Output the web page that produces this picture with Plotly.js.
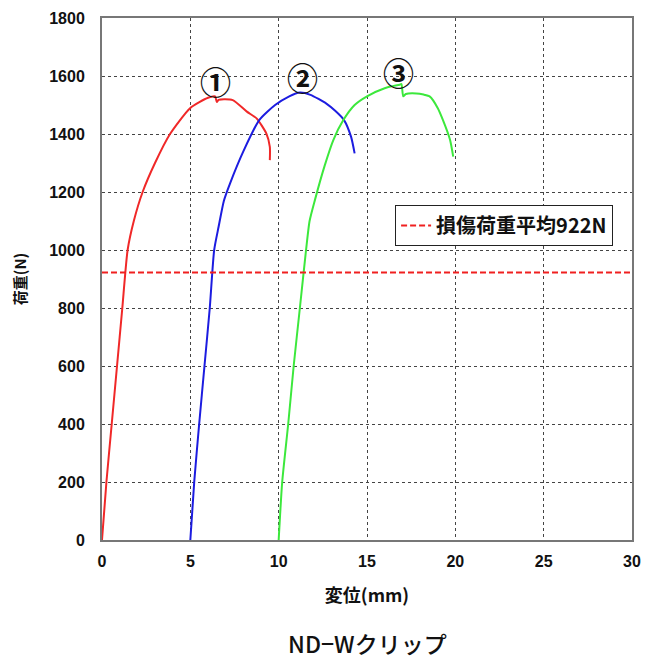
<!DOCTYPE html>
<html>
<head>
<meta charset="utf-8">
<script src="https://cdn.plot.ly/plotly-3.0.1.min.js"></script>
<style>
  html, body { margin: 0; padding: 0; background: #fff; }
  #chart { width: 660px; height: 661px; }
</style>
</head>
<body>
<div id="chart"></div>
<script>
// Load–displacement curves for three ND-W clip specimens
const disp1 = [0, 0.25, 0.55, 0.85, 1.15, 1.45, 1.8, 2.3, 3.0, 3.85, 5.0, 6.0, 6.4, 6.5, 6.6, 7.4, 8.2, 8.75, 9.3, 9.5, 9.5];
const load1 = [0, 200, 400, 600, 800, 1000, 1100, 1200, 1300, 1400, 1490, 1525, 1530, 1510, 1518, 1517, 1477, 1454, 1402, 1356, 1310];

const disp2 = [5, 5.22, 5.5, 5.8, 6.1, 6.35, 6.6, 6.9, 7.25, 8.0, 8.9, 9.8, 10.6, 11.2, 11.8, 12.7, 13.2, 13.7, 14.1, 14.3];
const load2 = [0, 200, 400, 600, 800, 1000, 1080, 1170, 1230, 1340, 1448, 1500, 1530, 1543, 1535, 1505, 1480, 1448, 1390, 1333];

const disp3 = [10, 10.2, 10.54, 10.85, 11.2, 11.55, 11.75, 12.05, 12.6, 13.1, 13.66, 14.3, 15.0, 16.0, 16.85, 16.95, 17.05, 17.2, 17.8, 18.2, 18.56, 19.0, 19.3, 19.7, 19.88];
const load3 = [0, 200, 400, 600, 800, 1000, 1100, 1172, 1290, 1380, 1448, 1500, 1530, 1558, 1570, 1572, 1530, 1538, 1540, 1536, 1529, 1490, 1448, 1380, 1322];

// Average damage load
const avgLoad = 922;
const avgLabel = '損傷荷重平均922N';

// Specimen markers
const markLabels = ['①', '②', '③'];
const markX = [6.45, 11.37, 16.8];
const markY = [1583, 1600, 1617];

const xTicks = [0, 5, 10, 15, 20, 25, 30];
const yTicks = [0, 200, 400, 600, 800, 1000, 1200, 1400, 1600, 1800];

const tickFont = { family: 'Liberation Sans, Arial, sans-serif', size: 16, color: '#111', weight: 'bold' };
const jpBold = (size) => ({ family: 'Noto Sans CJK JP, sans-serif', size: size, color: '#111', weight: 'bold' });

const traces = [
  { x: disp1, y: load1, mode: 'lines', line: { color: '#f02828', width: 2, shape: 'spline', smoothing: 0.6 }, showlegend: false, hoverinfo: 'skip' },
  { x: disp2, y: load2, mode: 'lines', line: { color: '#1c1ce0', width: 2, shape: 'spline', smoothing: 0.6 }, showlegend: false, hoverinfo: 'skip' },
  { x: disp3, y: load3, mode: 'lines', line: { color: '#3ce83c', width: 2, shape: 'spline', smoothing: 0.6 }, showlegend: false, hoverinfo: 'skip' },
  { x: [0, 30], y: [avgLoad, avgLoad], mode: 'lines', name: avgLabel,
    line: { color: '#f02020', width: 2, dash: '6px,3px' }, showlegend: true, hoverinfo: 'skip' }
];

const layout = {
  width: 660, height: 661,
  margin: { l: 102, r: 28, t: 18, b: 121 },
  paper_bgcolor: '#fff', plot_bgcolor: '#fff',
  showlegend: true,
  legend: {
    x: 0.553, y: 0.642, xanchor: 'left', yanchor: 'top',
    bgcolor: '#fff', bordercolor: '#222', borderwidth: 1,
    font: jpBold(20),
    itemwidth: 30, tracegroupgap: 0
  },
  xaxis: {
    range: [0, 30], tickvals: xTicks, ticktext: xTicks.map(String),
    showgrid: true, gridcolor: '#444', griddash: 'dot', gridwidth: 1,
    showline: true, linecolor: '#777', linewidth: 2, mirror: true,
    zeroline: false, ticks: '', tickfont: tickFont, ticklabelstandoff: 6,
    title: { text: '変位(mm)', font: jpBold(18), standoff: 20 }
  },
  yaxis: {
    range: [0, 1800], tickvals: yTicks, ticktext: yTicks.map(String),
    showgrid: true, gridcolor: '#444', griddash: 'dot', gridwidth: 1,
    showline: true, linecolor: '#777', linewidth: 2, mirror: true,
    zeroline: false, ticks: '', tickfont: tickFont, ticklabelstandoff: 12,
    title: { text: '荷重(N)', font: jpBold(15), standoff: 19 }
  },
  annotations: markLabels.map((t, i) => ({
    x: markX[i], y: markY[i], xref: 'x', yref: 'y', text: t, showarrow: false,
    font: jpBold(31)
  })).concat([{
    x: 0.5, y: -0.197, xref: 'paper', yref: 'paper', xanchor: 'center', yanchor: 'middle',
    text: 'ND−Wクリップ', showarrow: false,
    font: { family: 'Noto Sans CJK JP, sans-serif', size: 23, color: '#111', weight: 500 }
  }])
};

Plotly.newPlot('chart', traces, layout, { staticPlot: true, displayModeBar: false });
</script>
</body>
</html>
